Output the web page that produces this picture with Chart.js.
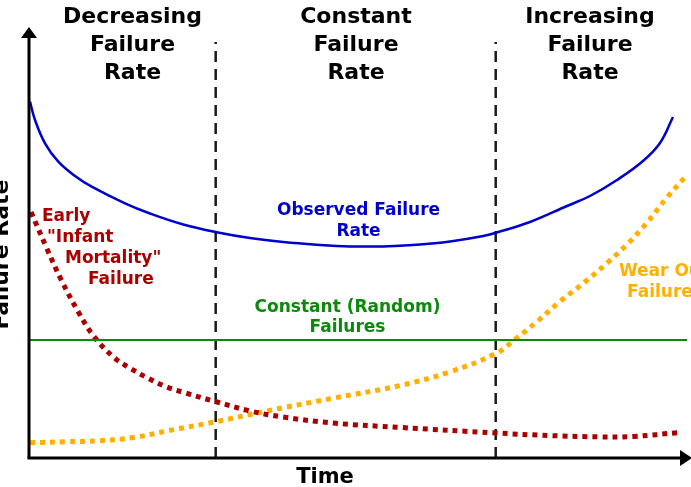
<!DOCTYPE html>
<html>
<head>
<meta charset="utf-8">
<script src="https://cdn.jsdelivr.net/npm/chart.js@4.4.0/dist/chart.umd.min.js"></script>
<style>
html,body{margin:0;padding:0;background:#fff;}
#wrap{width:691px;height:487px;position:relative;}
</style>
</head>
<body>
<div id="wrap"><canvas id="c"></canvas></div>
<script>
// Time axis: 0..100, Failure rate axis: 0..100 (arbitrary units)
const observedX = [0.15, 0.91, 2.42, 4.43, 6.95, 9.47, 14.50, 18.28, 23.31, 28.35, 33.38, 38.41, 43.46, 48.49, 53.52, 58.57, 63.60, 68.63, 70.65, 75.68, 81.27, 84.74, 88.82, 92.75, 95.32, 97.28];
const observedY = [82.67, 78.42, 73.01, 68.75, 65.43, 62.95, 59.09, 56.73, 54.18, 52.38, 51.03, 50.10, 49.49, 49.10, 49.10, 49.49, 50.25, 51.51, 52.32, 54.76, 58.47, 60.79, 64.50, 68.91, 73.09, 79.12];

const infantX = [0.3, 2.67, 4.94, 7.45, 9.71, 12.7, 15.3, 18.0, 20.8, 23.6, 28.4, 33.4, 38.4, 46.0, 56.0, 70.6, 78.7, 86.3, 91.3, 98.1];
const infantY = [57.1, 48.7, 41.1, 33.9, 28.4, 23.5, 20.8, 18.5, 16.5, 15.1, 13.0, 10.9, 9.5, 8.1, 7.1, 5.8, 5.2, 4.9, 5.0, 5.9];

const wearX = [0.15, 5.7, 10.7, 15.8, 20.8, 28.4, 35.9, 46.0, 56.0, 63.6, 70.6, 73.4, 76.7, 80.2, 83.7, 87.3, 90.5, 93.3, 96.3, 99.4];
const wearY = [3.55, 3.78, 4.01, 4.76, 6.26, 8.47, 10.9, 13.9, 16.8, 20.0, 24.3, 27.5, 31.6, 36.3, 40.5, 45.2, 49.8, 54.5, 60.3, 65.7];

const constantX = [0, 99.4];
const constantY = [27.4, 27.4];

const phaseBoundaries = [28.2, 70.5];
const boundaryTop = 96.5;

const phaseTitles = [["Decreasing","Failure","Rate"],["Constant","Failure","Rate"],["Increasing","Failure","Rate"]];
const xTitle = "Time";
const yTitle = "Failure Rate";

const zip = (xs, ys) => xs.map((x, i) => ({x: x, y: ys[i]}));

const datasets = [
  {label:"Constant (Random) Failures", data: zip(constantX, constantY), borderColor:"#0a8a0a", borderWidth:2, pointRadius:0, clip:false},
  {label:"Infant Mortality", data: zip(infantX, infantY), borderColor:"#aa0000", borderWidth:5, borderDash:[5,5], pointRadius:0, tension:0.4, clip:false},
  {label:"Wear Out", data: zip(wearX, wearY), borderColor:"#ffb000", borderWidth:5, borderDash:[5,5], pointRadius:0, tension:0.4, clip:false},
  {label:"Observed Failure Rate", data: zip(observedX, observedY), borderColor:"#0000cc", borderWidth:2.5, pointRadius:0, tension:0.4, clip:false}
];
phaseBoundaries.forEach(b => datasets.push({label:"boundary", data:[{x:b,y:0},{x:b,y:boundaryTop}], borderColor:"#1a1a1a", borderWidth:2.5, borderDash:[11,7], pointRadius:0, clip:false}));

const FONT = '"DejaVu Sans", sans-serif';

const annotate = {
  id: "annotate",
  afterDatasetsDraw(chart) {
    const ctx = chart.ctx;
    const a = chart.chartArea;
    ctx.save();
    // axes
    ctx.strokeStyle = "#000"; ctx.fillStyle = "#000"; ctx.lineWidth = 3;
    ctx.beginPath(); ctx.moveTo(a.left, a.bottom); ctx.lineTo(a.left, a.top + 10); ctx.stroke();
    ctx.beginPath(); ctx.moveTo(a.left - 8, a.top + 11); ctx.lineTo(a.left, a.top); ctx.lineTo(a.left + 8, a.top + 11); ctx.closePath(); ctx.fill();
    ctx.beginPath(); ctx.moveTo(a.left - 1.5, a.bottom); ctx.lineTo(a.right - 10, a.bottom); ctx.stroke();
    ctx.beginPath(); ctx.moveTo(a.right - 11, a.bottom - 8); ctx.lineTo(a.right + 1, a.bottom); ctx.lineTo(a.right - 11, a.bottom + 8); ctx.closePath(); ctx.fill();

    // phase titles
    ctx.font = "bold 22px " + FONT; ctx.textAlign = "center"; ctx.textBaseline = "alphabetic"; ctx.fillStyle = "#000";
    const centers = [132.5, 356, 590];
    phaseTitles.forEach((lines, i) => lines.forEach((t, j) => ctx.fillText(t, centers[i], 23 + j * 28)));

    // axis titles
    ctx.font = "bold 21px " + FONT;
    ctx.fillText(xTitle, 325, 483);
    ctx.save(); ctx.translate(8, 254.5); ctx.rotate(-Math.PI/2); ctx.font = "bold 22px " + FONT; ctx.fillText(yTitle, 0, 0); ctx.restore();

    // series labels
    ctx.font = "bold 17px " + FONT;
    ctx.fillStyle = "#0000cc";
    ctx.fillText("Observed Failure", 358.5, 215); ctx.fillText("Rate", 358.5, 236);
    ctx.fillStyle = "#0a8a0a";
    ctx.fillText("Constant (Random)", 347.5, 312); ctx.fillText("Failures", 347.5, 332);
    ctx.fillStyle = "#ffb000";
    ctx.fillText("Wear Out", 664, 276); ctx.fillText("Failures", 665, 297);
    ctx.fillStyle = "#aa0000"; ctx.textAlign = "left";
    ctx.fillText("Early", 42, 221);
    ctx.fillText("\"Infant", 47, 242);
    ctx.fillText("Mortality\"", 65, 263);
    ctx.fillText("Failure", 88, 284);
    ctx.restore();
  }
};

new Chart(document.getElementById("c"), {
  type: "line",
  data: {datasets},
  options: {
    responsive: true, maintainAspectRatio: false, animation: false, devicePixelRatio: 1,
    layout: {padding: {left: 29, top: 27, right: 0, bottom: 29}},
    plugins: {legend: {display: false}, tooltip: {enabled: false}},
    scales: {
      x: {type: "linear", min: 0, max: 100, display: false},
      y: {type: "linear", min: 0, max: 100, display: false}
    }
  },
  plugins: [annotate]
});
</script>
</body>
</html>
